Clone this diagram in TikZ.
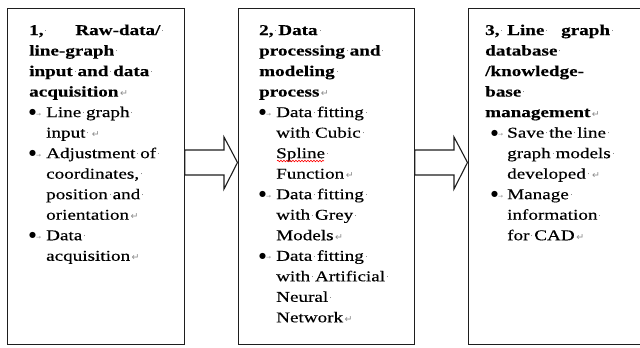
\documentclass[tikz,border=0pt]{standalone}
\usepackage{fontspec}
\setmainfont{Liberation Serif}[FakeStretch=1.28, UprightFeatures={FakeBold=0.35}, BoldFeatures={FakeBold=0.25}]
\newfontfamily\markfont{DejaVu Sans}
\usetikzlibrary{calc,decorations.pathmorphing}
\definecolor{mk}{RGB}{140,140,140}
\definecolor{edge}{RGB}{30,30,30}
\newcommand\sd{\hbox to \fontdimen2\font{\hss\raisebox{0.28em}{\textcolor{mk}{\rule{1bp}{1bp}}}\hss}}
\newcommand\ret{\textcolor{mk}{\markfont\fontsize{9.5}{9.5}\selectfont\,↵}}
\newcommand\tabm{\textcolor{mk}{\markfont\fontsize{6}{6}\selectfont\raisebox{1bp}{→}}}
\newcommand\bul[1]{\makebox[#1][l]{\raisebox{2.3bp}{\markfont\fontsize{8}{8}\selectfont ●}\tabm}}
\newcommand\ind[1]{\hspace*{#1}}
\begin{document}
\begin{tikzpicture}[x=1bp,y=-1bp,
  box/.style={draw=edge, line width=1.4bp, rectangle, inner sep=0pt, anchor=north west},
  txt/.style={anchor=base west, inner sep=0pt, font=\fontsize{15}{20.6}\selectfont},
  blockarrow/.style={draw=edge, line width=1.1bp, line join=miter},
  spell/.style={draw=red, line width=0.6bp, decorate, decoration={snake, amplitude=0.8bp, segment length=3bp}}]
\useasboundingbox (0,0) rectangle (640,347);
\fill[white] (0,0) rectangle (640,347);
\node[box, minimum width=176.5bp, minimum height=336bp] (b1) at (7,8) {};
\node[box, minimum width=176bp, minimum height=336bp] (b2) at (237.5,8) {};
\node[box, minimum width=180bp, minimum height=336bp] (b3) at (467.5,8) {};
\foreach \a/\b in {b1/b2, b2/b3}{
  \coordinate (tl) at (\a.east |- 0,162.5);
  \coordinate (tp) at (\b.west |- 0,162.5);
  \draw[blockarrow] ($(tl)+(0,-12.5)$) -- ($(tp)+(-13.5,-12.5)$) -- ($(tp)+(-13.5,-25.5)$)
    -- (tp) -- ($(tp)+(-13.5,26.5)$) -- ($(tp)+(-13.5,12.5)$) -- ($(tl)+(0,12.5)$) -- cycle;
}
\node[txt] (t1) at (29,35) {\parbox[t]{160bp}{\raggedright
  {\bfseries\makebox[136bp][l]{1,\sd\hfill Raw-data/\sd}\\
  line-graph\sd\\
  input\sd and\sd data\sd\\
  acquisition}\ret\\
  \bul{17bp}Line\sd graph\sd\\
  \ind{17bp}input\sd\ret\\
  \bul{17bp}Adjustment\sd of\sd\\
  \ind{17bp}coordinates,\sd\\
  \ind{17bp}position\sd and\sd\\
  \ind{17bp}orientation\ret\\
  \bul{17bp}Data\sd\\
  \ind{17bp}acquisition\ret}};
\node[txt] (t2) at (259,35) {\parbox[t]{160bp}{\raggedright
  {\bfseries 2,\sd Data\sd\\
  processing\sd and\sd\\
  modeling\sd\\
  process}\ret\\
  \bul{17bp}Data\sd fitting\sd\\
  \ind{17bp}with\sd Cubic\sd\\
  \ind{17bp}Spline\sd\\
  \ind{17bp}Function\ret\\
  \bul{17bp}Data\sd fitting\sd\\
  \ind{17bp}with\sd Grey\sd\\
  \ind{17bp}Models\ret\\
  \bul{17bp}Data\sd fitting\sd\\
  \ind{17bp}with\sd Artificial\sd\\
  \ind{17bp}Neural\sd\\
  \ind{17bp}Network\ret}};
\node[txt] (t3) at (485,35) {\parbox[t]{160bp}{\raggedright
  {\bfseries\makebox[22bp][l]{3,\sd}Line\sd\hspace{12bp}graph\sd\\
  database\sd\\
  /knowledge-\\
  base\sd\\
  management}\ret\\
  \ind{6bp}\bul{16bp}Save\sd the\sd line\sd\\
  \ind{22bp}graph\sd models\sd\\
  \ind{22bp}developed\sd\ret\\
  \ind{6bp}\bul{16bp}Manage\sd\\
  \ind{22bp}information\sd\\
  \ind{22bp}for\sd CAD\ret}};
\draw[spell] (277,161) -- (324,161);
\end{tikzpicture}
\end{document}
